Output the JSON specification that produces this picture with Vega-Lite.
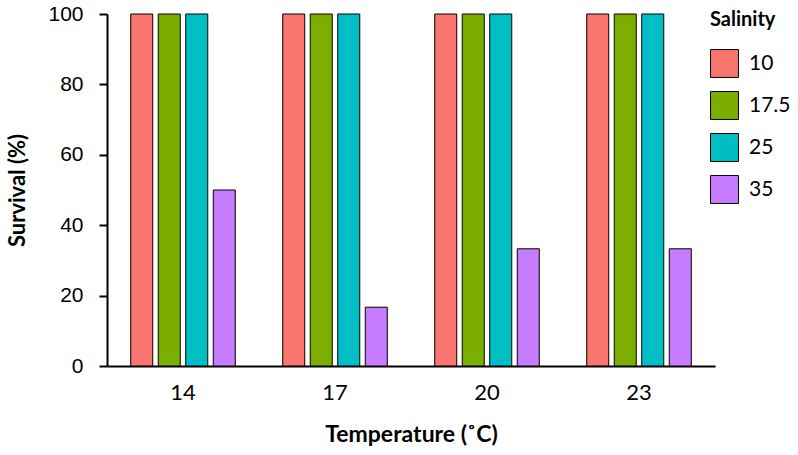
{
  "$schema": "https://vega.github.io/schema/vega-lite/v6.json",
  "autosize": "none",
  "padding": {"left": 107, "top": 14, "right": 83, "bottom": 89},
  "width": 608,
  "height": 352,
  "background": "white",
  "data": {"values": [
    {"temp": "14", "sal": "10", "surv": 100},
    {"temp": "14", "sal": "17.5", "surv": 100},
    {"temp": "14", "sal": "25", "surv": 100},
    {"temp": "14", "sal": "35", "surv": 50},
    {"temp": "17", "sal": "10", "surv": 100},
    {"temp": "17", "sal": "17.5", "surv": 100},
    {"temp": "17", "sal": "25", "surv": 100},
    {"temp": "17", "sal": "35", "surv": 16.7},
    {"temp": "20", "sal": "10", "surv": 100},
    {"temp": "20", "sal": "17.5", "surv": 100},
    {"temp": "20", "sal": "25", "surv": 100},
    {"temp": "20", "sal": "35", "surv": 33.3},
    {"temp": "23", "sal": "10", "surv": 100},
    {"temp": "23", "sal": "17.5", "surv": 100},
    {"temp": "23", "sal": "25", "surv": 100},
    {"temp": "23", "sal": "35", "surv": 33.3}
  ]},
  "mark": {"type": "bar", "stroke": "black", "strokeWidth": 1},
  "encoding": {
    "x": {
      "field": "temp", "type": "nominal",
      "scale": {"paddingInner": 0.276, "paddingOuter": 0.138},
      "axis": {
        "title": "Temperature (˚C)", "labelAngle": 0, "ticks": false,
        "domainColor": "black", "domainWidth": 2,
        "labelFont": "Lato", "labelFontSize": 22, "labelColor": "black", "labelPadding": 16,
        "titleFont": "Lato", "titleFontSize": 23, "titleFontWeight": "bold", "titleColor": "black", "titlePadding": 20
      }
    },
    "xOffset": {"field": "sal", "type": "nominal", "scale": {"paddingInner": 0.2, "paddingOuter": 0.1}},
    "y": {
      "field": "surv", "type": "quantitative",
      "scale": {"domain": [0, 100]},
      "axis": {
        "title": "Survival (%)", "values": [0, 20, 40, 60, 80, 100], "grid": false,
        "domainColor": "black", "domainWidth": 2, "tickColor": "black", "tickWidth": 2, "tickSize": 8,
        "labelFont": "Liberation Sans", "labelFontSize": 21, "labelColor": "black", "labelPadding": 16,
        "titleFont": "Lato", "titleFontSize": 22, "titleFontWeight": "bold", "titleColor": "black", "titlePadding": 18
      }
    },
    "fill": {
      "field": "sal", "type": "nominal", "title": "Salinity",
      "scale": {"domain": ["10", "17.5", "25", "35"], "range": ["#F8766D", "#7CAE00", "#00BFC4", "#C77CFF"]},
      "legend": {
        "orient": "none", "legendX": 603, "legendY": -4,
        "symbolType": "square", "symbolSize": 780, "symbolStrokeColor": "black", "symbolStrokeWidth": 1,
        "rowPadding": 9, "labelOffset": 10,
        "labelFont": "Lato", "labelFontSize": 21, "labelColor": "black",
        "titleFont": "Lato", "titleFontSize": 20, "titleFontWeight": "bold", "titleColor": "black", "titlePadding": 19
      }
    }
  },
  "config": {"view": {"stroke": null}}
}
